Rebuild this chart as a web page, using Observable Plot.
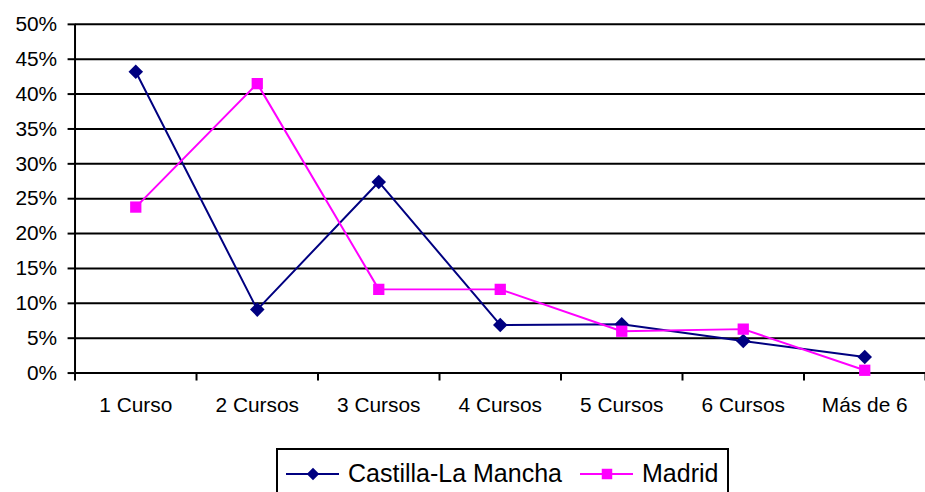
<!DOCTYPE html>
<html>
<head>
<meta charset="utf-8">
<script src="https://cdn.jsdelivr.net/npm/d3@7"></script>
<script src="https://cdn.jsdelivr.net/npm/@observablehq/plot@0.6"></script>
<style>
  html, body { margin: 0; padding: 0; background: #fff; overflow: hidden; }
  #wrap { position: relative; width: 925px; height: 492px; overflow: hidden; }
  #legend { position: absolute; left: 276px; top: 448px; }
</style>
</head>
<body>
<div id="wrap"><div id="chart"></div><div id="legend"></div></div>
<script>
const categories = ["1 Curso", "2 Cursos", "3 Cursos", "4 Cursos", "5 Cursos", "6 Cursos", "Más de 6"];
const castilla = [0.432, 0.091, 0.274, 0.069, 0.070, 0.046, 0.023];
const madrid = [0.238, 0.415, 0.120, 0.120, 0.060, 0.063, 0.004];
const yTicks = [0, 0.05, 0.10, 0.15, 0.20, 0.25, 0.30, 0.35, 0.40, 0.45, 0.50];
const seriesNames = ["Castilla-La Mancha", "Madrid"];
const colors = ["#000080", "#FF00FF"];

const font = "Arial, 'Liberation Sans', sans-serif";
const rows = (vals) => vals.map((v, i) => ({i: i + 0.5, v}));
const boundaries = d3.range(categories.length + 1);
const centers = categories.map((c, i) => i + 0.5);

const chart = Plot.plot({
  width: 931,
  height: 442,
  marginLeft: 75,
  marginRight: 0,
  marginTop: 24,
  marginBottom: 67,
  style: {fontFamily: font, fontSize: "21px", color: "#000", background: "#fff", overflow: "visible"},
  x: {type: "linear", domain: [0, categories.length]},
  y: {domain: [0, 0.5]},
  marks: [
    Plot.gridY(yTicks, {stroke: "#000", strokeOpacity: 1, strokeWidth: 2}),
    Plot.ruleX([0], {stroke: "#000", strokeWidth: 2}),
    Plot.axisY({ticks: yTicks, tickFormat: d3.format(".0%"), tickSize: 7, tickPadding: 11, strokeWidth: 2, fontSize: 21, label: null}),
    Plot.axisX({ticks: boundaries, tickFormat: () => "", tickSize: 8, strokeWidth: 2, label: null}),
    Plot.axisX({ticks: centers, tickFormat: (d) => categories[Math.floor(d)], tickSize: 0, tickPadding: 24, fontSize: 21, label: null}),
    Plot.line(rows(castilla), {x: "i", y: "v", stroke: colors[0], strokeWidth: 2}),
    Plot.line(rows(madrid), {x: "i", y: "v", stroke: colors[1], strokeWidth: 2}),
    Plot.dot(rows(castilla), {x: "i", y: "v", symbol: "diamond2", r: 6.6, fill: colors[0], stroke: "none"}),
    Plot.dot(rows(madrid), {x: "i", y: "v", symbol: "square", r: 6.4, fill: colors[1], stroke: "none"})
  ]
});
document.getElementById("chart").appendChild(chart);

// Legend
const lg = d3.select("#legend").append("svg")
  .attr("width", 454).attr("height", 60)
  .style("font-family", font);
lg.append("rect").attr("x", 1).attr("y", 1).attr("width", 451).attr("height", 70)
  .attr("fill", "#fff").attr("stroke", "#000").attr("stroke-width", 2);
const items = [
  {name: seriesNames[0], color: colors[0], symbol: d3.symbolDiamond2, size: 100, x0: 10},
  {name: seriesNames[1], color: colors[1], symbol: d3.symbolSquare, size: 110, x0: 304}
];
for (const it of items) {
  const g = lg.append("g");
  g.append("line").attr("x1", it.x0).attr("x2", it.x0 + 53).attr("y1", 26).attr("y2", 26)
    .attr("stroke", it.color).attr("stroke-width", 2);
  g.append("path").attr("d", d3.symbol(it.symbol, it.size)())
    .attr("transform", `translate(${it.x0 + 27},26)`).attr("fill", it.color);
  g.append("text").attr("x", it.x0 + 62).attr("y", 34).attr("font-size", 25).attr("fill", "#000").text(it.name);
}
</script>
</body>
</html>
